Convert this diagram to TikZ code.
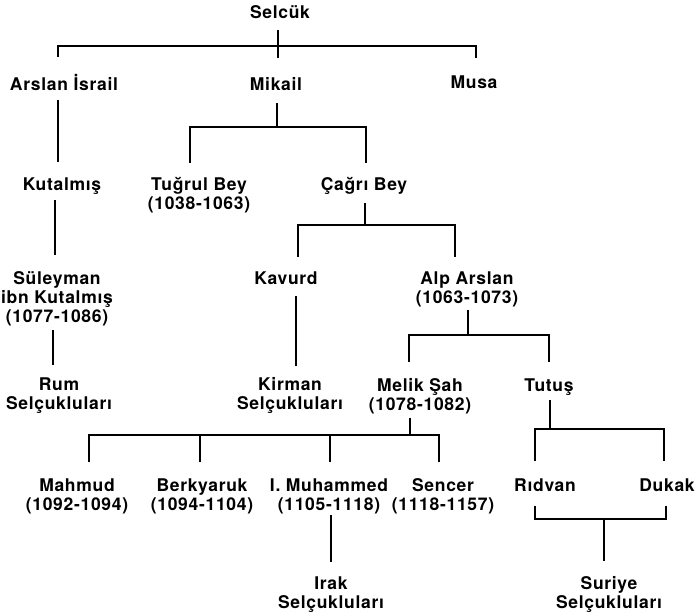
\documentclass[tikz,border=0pt]{standalone}
\usepackage{fontspec}
\setmainfont{TeX Gyre Heros}[LetterSpace=4]
\tikzset{
  person/.style={font=\fontsize{17.5}{19}\selectfont\bfseries, align=center, anchor=base, inner sep=0pt},
  link/.style={line width=1.8pt}
}
\begin{document}
\begin{tikzpicture}[x=1pt,y=-1pt]
\useasboundingbox (0,0) rectangle (697,614);
% nodes (placed at the baseline of their last line)
\node[person] (selcuk) at (280,18) {Selcük};
\node[person] (arslan) at (64,90) {Arslan İsrail};
\node[person] (mikail) at (276,90) {Mikail};
\node[person] (musa) at (474,88) {Musa};
\node[person] (kutalmis) at (62,190) {Kutalmış};
\node[person] (tugrul) at (199,209) {Tuğrul Bey\\(1038-1063)};
\node[person] (cagri) at (364,190) {Çağrı Bey};
\node[person] (suleyman) at (57,322) {Süleyman\\ibn Kutalmış\\(1077-1086)};
\node[person] (kavurd) at (286,284) {Kavurd};
\node[person] (alp) at (467,303) {Alp Arslan\\(1063-1073)};
\node[person] (rum) at (59,409) {Rum\\Selçukluları};
\node[person] (kirman) at (290,409) {Kirman\\Selçukluları};
\node[person] (melik) at (420,410) {Melik Şah\\(1078-1082)};
\node[person] (tutus) at (549,391) {Tutuş};
\node[person] (mahmud) at (77,510) {Mahmud\\(1092-1094)};
\node[person] (berk) at (202,510) {Berkyaruk\\(1094-1104)};
\node[person] (muhammed) at (329,510) {I. Muhammed\\(1105-1118)};
\node[person] (sencer) at (443,510) {Sencer\\(1118-1157)};
\node[person] (ridvan) at (545,491) {Rıdvan};
\node[person] (dukak) at (667,491) {Dukak};
\node[person] (irak) at (331,608) {Irak\\Selçukluları};
\node[person] (suriye) at (609,608) {Suriye\\Selçukluları};
% junction coordinates
\coordinate (selcukTop) at (278,30);
\coordinate (selcukBus) at (278,58);
\coordinate (arslanUp) at (58,57);
\coordinate (musaUp) at (476,58);
\coordinate (busA) at (58,46);
\coordinate (busB) at (476,46);
\coordinate (arslanDown) at (58,100);
\coordinate (kutalmisUp) at (58,162);
\coordinate (kutalmisDown) at (55,200);
\coordinate (suleymanUp) at (55,255);
\coordinate (suleymanDown) at (53,330);
\coordinate (rumUp) at (53,365);
\coordinate (mikailDown) at (277,103);
\coordinate (mikailBus) at (277,127);
\coordinate (tugrulUp) at (190,163);
\coordinate (cagriUp) at (366,163);
\coordinate (cagriDown) at (365,203);
\coordinate (cagriBus) at (365,225);
\coordinate (kavurdUp) at (298,257);
\coordinate (alpUp) at (455,257);
\coordinate (kavurdDown) at (296,296);
\coordinate (kirmanUp) at (296,366);
\coordinate (alpDown) at (468,310);
\coordinate (alpBus) at (468,335);
\coordinate (melikUp) at (409,362);
\coordinate (tutusUp) at (549,362);
\coordinate (melikDown) at (410,418);
\coordinate (melikBus) at (410,435);
\coordinate (mahmudUp) at (89,462);
\coordinate (berkUp) at (200,462);
\coordinate (muhammedUp) at (330,462);
\coordinate (sencerUp) at (439,462);
\coordinate (muhammedDown) at (331,515);
\coordinate (irakUp) at (331,562);
\coordinate (tutusDown) at (550,400);
\coordinate (tutusBus) at (550,429);
\coordinate (ridvanUp) at (535,461);
\coordinate (dukakUp) at (664,461);
\coordinate (ridvanDown) at (535,506);
\coordinate (dukakDown) at (666,506);
\coordinate (suriyeBus) at (604,519);
\coordinate (suriyeUp) at (604,561);
% connectors
\begin{scope}[link]
\draw (selcukTop) -- (selcukBus);
\draw (arslanUp) |- (busA) -- (busB) -- (musaUp);
\draw (arslanDown) -- (kutalmisUp);
\draw (kutalmisDown) -- (suleymanUp);
\draw (suleymanDown) -- (rumUp);
\draw (mikailDown) -- (mikailBus);
\draw (tugrulUp) |- (mikailBus) -| (cagriUp);
\draw (cagriDown) -- (cagriBus);
\draw (kavurdUp) |- (cagriBus) -| (alpUp);
\draw (kavurdDown) -- (kirmanUp);
\draw (alpDown) -- (alpBus);
\draw (melikUp) |- (alpBus) -| (tutusUp);
\draw (melikDown) -- (melikBus);
\draw (mahmudUp) |- (melikBus) -| (sencerUp);
\draw (berkUp) -- (berkUp |- melikBus);
\draw (muhammedUp) -- (muhammedUp |- melikBus);
\draw (muhammedDown) -- (irakUp);
\draw (tutusDown) -- (tutusBus);
\draw (ridvanUp) |- (tutusBus) -| (dukakUp);
\draw (ridvanDown) |- (suriyeBus) -| (dukakDown);
\draw (suriyeBus) -- (suriyeUp);
\end{scope}
\end{tikzpicture}
\end{document}
